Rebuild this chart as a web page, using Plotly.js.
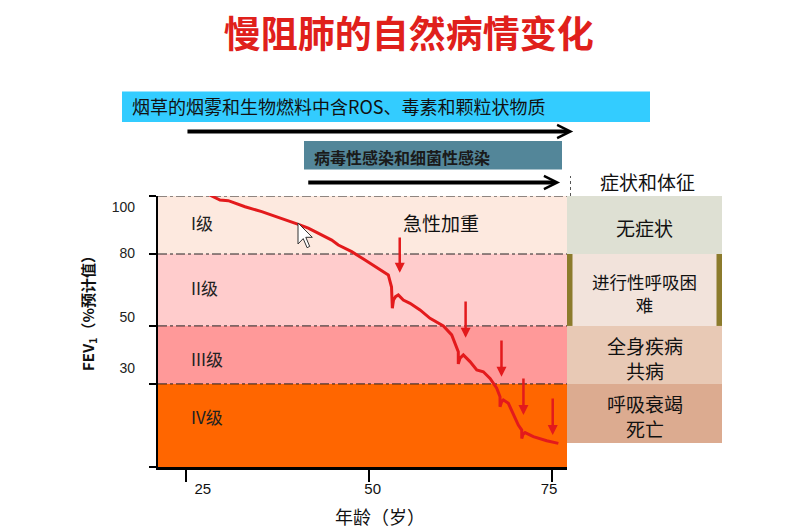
<!DOCTYPE html>
<html>
<head>
<meta charset="utf-8">
<script src="https://cdn.plot.ly/plotly-3.0.1.min.js"></script>
<style>
html, body { margin: 0; padding: 0; background: #ffffff; }
#chart { width: 789px; height: 530px; }
</style>
</head>
<body>
<div id="chart"></div>
<script>
// ================= DATA =================
const chartTitle = '慢阻肺的自然病情变化';
const xAxisTitle = '年龄（岁）';
const yAxisTitle = '<b>FEV<sub>1</sub>（%预计值）</b>';

const ageTickVals = [25, 50, 75];
const ageTickText = ['25', '50', '75'];

// stage boundaries on the (schematic) FEV1 scale of the drawing
const fevLevels = [100, 80, 55.2, 35.2];
const fevTickText = ['100', '80', '50', '30'];
const fevBottom = 6.55;

const stageNames = ['I级', 'II级', 'III级', 'IV级'];

const symptomTitle = '症状和体征';
const symptomNames = ['无症状', '进行性呼吸困<br>难', '全身疾病<br>共病', '呼吸衰竭<br>死亡'];
const symptomBottom = 14.8;

// FEV1 decline curve (age, FEV1 on the drawing's scale)
const ageCurve = [28.05, 29.65, 30.78, 33.07, 35.35, 37.16, 38.53, 40.35, 41.71, 43.54,
  44.91, 45.81, 47.64, 49.46, 50.82, 51.96, 52.64, 53.08, 53.19, 53.35,
  53.63, 54.01, 54.69, 55.61, 56.97, 58.34, 60.16, 61.30, 61.89, 62.20,
  62.20, 62.44, 62.89, 63.80, 64.72, 65.62, 66.54, 67.45, 67.90, 67.90,
  68.13, 68.35, 69.04, 69.72, 70.40, 70.87, 70.87, 71.04, 71.32, 72.45,
  74.28, 75.87];
const fevCurve = [100.6, 98.6, 98.4, 96.3, 94.6, 93.1, 91.7, 90.2, 88.9, 86.6,
  84.8, 83.1, 80.8, 77.9, 75.6, 73.7, 72.8, 68.6, 61.3, 64.1,
  65.3, 65.9, 64.1, 63.0, 60.7, 57.8, 55.2, 52.1, 48.6, 46.3,
  42.1, 44.1, 45.2, 42.9, 40.0, 39.4, 37.1, 33.7, 30.8, 27.3,
  29.1, 29.7, 28.5, 24.5, 21.0, 19.3, 16.4, 17.8, 18.4, 17.0,
  15.6, 14.7];

// acute exacerbations
const exacerbationLabel = '急性加重';
const exacerbationAge = [54.2, 63.2, 68.1, 71.1, 75.1];
const exacerbationFrom = [86.2, 64.1, 50.7, 37.6, 30.7];
const exacerbationTo = [73.5, 51.1, 37.7, 24.5, 17.6];

// risk factors (exposure periods)
const riskFactors = ['烟草的烟雾和生物燃料中含ROS、毒素和颗粒状物质', '病毒性感染和细菌性感染'];
const riskStartAge = [25, 41.5];
const riskEndAge = [77.9, 76.1];

// ================= STYLE / LAYOUT =================
const CJK = '"Noto Sans CJK SC", "Noto Sans", sans-serif';
const LAT = '"Liberation Sans", Arial, sans-serif';
const xRange = [21.18, 77.05];
const yRange = [fevBottom, 100];
const stageColors = ['#FDE9DF', '#FFCCCC', '#FF9999', '#FF6600'];
const symptomColors = ['#DEE0D3', '#F2E3DB', '#E8C9B5', '#DCAB90'];
const redColor = '#E31A1C';

const ageLabelPos = [27.3, 50.5, 74.6];
const fevLabelPos = [96.3, 80.4, 58.4, 40.8];
const stageLabelPos = [90.8, 68.6, 44.1, 23.8];
const symptomLabelPos = [89.0, 66.7, 44.3, 24.2];

// plot area in pixels: left 158, right 567, top 196, bottom 467
const M = { l: 158, r: 222, t: 196, b: 63 };
const PW = 789 - M.l - M.r, PH = 530 - M.t - M.b;
const px2pX = p => (p - M.l) / PW;
const px2pY = p => (530 - M.b - p) / PH;

const shapes = [];
const bandEdges = fevLevels.concat([fevBottom]);
stageNames.forEach((s, i) => {
  shapes.push({ type: 'rect', xref: 'paper', yref: 'y', x0: 0, x1: 1,
    y0: bandEdges[i + 1], y1: bandEdges[i], fillcolor: stageColors[i],
    line: { width: 0 }, layer: 'below' });
});
fevLevels.forEach(v => {
  shapes.push({ type: 'line', xref: 'paper', yref: 'y', x0: 0, x1: 1, y0: v, y1: v,
    line: { color: '#222222', width: 1, dash: 'dashdot' }, layer: 'below' });
});
// symptom boxes
const symEdges = fevLevels.concat([symptomBottom]);
const symX0 = px2pX(567), symX1 = px2pX(722);
symptomNames.forEach((s, i) => {
  shapes.push({ type: 'rect', xref: 'paper', yref: 'y', x0: symX0, x1: symX1,
    y0: symEdges[i + 1], y1: symEdges[i], fillcolor: symptomColors[i], line: { width: 0 } });
});
// olive side bars on the dyspnoea box
[[567, 572.5], [716.5, 722]].forEach(b => {
  shapes.push({ type: 'rect', xref: 'paper', yref: 'y', x0: px2pX(b[0]), x1: px2pX(b[1]),
    y0: symEdges[2], y1: symEdges[1], fillcolor: '#8C7B2C', line: { width: 0 } });
});
// risk factor banners
shapes.push({ type: 'rect', xref: 'paper', yref: 'paper', x0: px2pX(122), x1: px2pX(650),
  y0: px2pY(122), y1: px2pY(91.5), fillcolor: '#33CCFF', line: { width: 0 } });
shapes.push({ type: 'rect', xref: 'paper', yref: 'paper', x0: px2pX(304), x1: px2pX(562),
  y0: px2pY(169.5), y1: px2pY(141), fillcolor: '#538699', line: { width: 0 } });
// small dashed divider
shapes.push({ type: 'line', xref: 'paper', yref: 'paper', x0: px2pX(570.5), x1: px2pX(570.5),
  y0: px2pY(196), y1: px2pY(176), line: { color: '#555', width: 1, dash: 'dot' } });
// mouse cursor seen in the slide
const cur = [[0, 0], [0, 21], [5.2, 15.6], [9.1, 24.7], [11.7, 23.4], [7.8, 14.3], [14.3, 14.3]];
const cx = 298, cy = 223;
shapes.push({ type: 'path', xref: 'paper', yref: 'paper',
  path: 'M' + cur.map(p => px2pX(cx + p[0]).toFixed(4) + ',' + px2pY(cy + p[1]).toFixed(4)).join(' L') + ' Z',
  fillcolor: '#ffffff', line: { color: '#333', width: 1 } });

const annotations = [];
const txt = (o) => Object.assign({ showarrow: false, xanchor: 'center', yanchor: 'middle' }, o);
// risk factor texts
annotations.push(txt({ xref: 'paper', yref: 'paper', x: px2pX(130), y: px2pY(106.5),
  xanchor: 'left', text: riskFactors[0],
  font: { family: CJK, size: 18, color: '#111' } }));
annotations.push(txt({ xref: 'paper', yref: 'paper', x: px2pX(312), y: px2pY(156.5),
  xanchor: 'left', text: '<b>' + riskFactors[1] + '</b>',
  font: { family: CJK, size: 16, color: '#1a1a1a' } }));
// exposure arrows
const arrowY = [px2pY(131.5), px2pY(182.5)];
riskFactors.forEach((r, i) => {
  annotations.push({ xref: 'x', yref: 'paper', x: riskEndAge[i], y: arrowY[i],
    axref: 'x', ax: riskStartAge[i], ayref: 'pixel', ay: 0, text: '', showarrow: true,
    arrowhead: 5, arrowsize: 0.65, arrowwidth: 4, arrowcolor: '#000' });
});
// stage labels
stageNames.forEach((s, i) => {
  annotations.push(txt({ xref: 'x', yref: 'y', x: 25.45, y: stageLabelPos[i], xanchor: 'left',
    text: s, font: { family: CJK, size: 17, color: '#222' } }));
});
// exacerbations
annotations.push(txt({ xref: 'x', yref: 'y', x: 59.8, y: 90.8, text: exacerbationLabel,
  font: { family: CJK, size: 19, color: '#111' } }));
exacerbationAge.forEach((a, i) => {
  annotations.push({ xref: 'x', yref: 'y', x: a, y: exacerbationTo[i], axref: 'x', ax: a,
    ayref: 'y', ay: exacerbationFrom[i], text: '', showarrow: true, arrowhead: 2,
    arrowsize: 0.8, arrowwidth: 2.5, arrowcolor: redColor });
});
// symptoms
annotations.push(txt({ xref: 'paper', yref: 'paper', x: px2pX(647), y: px2pY(181), text: symptomTitle,
  font: { family: CJK, size: 19, color: '#111' } }));
symptomNames.forEach((s, i) => {
  annotations.push(txt({ xref: 'paper', yref: 'y', x: px2pX(644.5), y: symptomLabelPos[i], text: s,
    font: { family: CJK, size: i === 1 ? 17.5 : 19, color: '#111' } }));
});
// axis titles
annotations.push(txt({ xref: 'paper', yref: 'paper', x: px2pX(380), y: px2pY(516), text: xAxisTitle,
  font: { family: CJK, size: 18, color: '#111' } }));
annotations.push(txt({ xref: 'paper', yref: 'paper', x: px2pX(88), y: px2pY(310), text: yAxisTitle,
  textangle: -90, font: { family: CJK, size: 15, color: '#111' } }));

const traces = [
  { x: ageCurve, y: fevCurve, type: 'scatter', mode: 'lines', cliponaxis: false,
    line: { color: redColor, width: 3 }, hoverinfo: 'skip', showlegend: false },
  { x: [], y: [], type: 'scatter', mode: 'markers', xaxis: 'x2', yaxis: 'y2',
    showlegend: false, hoverinfo: 'skip' }
];

const layout = {
  width: 789, height: 530, margin: M,
  paper_bgcolor: '#ffffff', plot_bgcolor: '#ffffff', showlegend: false,
  title: { text: '<b>' + chartTitle + '</b>', x: 0.518, xanchor: 'center', y: 0.934, yanchor: 'middle',
    font: { family: CJK, size: 37, color: '#E0201B' } },
  xaxis: { range: xRange, showline: true, linecolor: '#000', linewidth: 2.5, ticks: 'outside',
    ticklen: 12, tickwidth: 2.5, tickcolor: '#000', tickvals: ageTickVals, showticklabels: false,
    showgrid: false, zeroline: false, fixedrange: true, automargin: false },
  xaxis2: { overlaying: 'x', anchor: 'y', side: 'bottom', range: xRange, tickvals: ageLabelPos,
    ticktext: ageTickText, ticks: '', showline: false, showgrid: false, zeroline: false,
    ticklabelstandoff: 11, tickfont: { family: LAT, size: 15, color: '#111' }, automargin: false, fixedrange: true },
  yaxis: { range: yRange, showline: true, linecolor: '#000', linewidth: 2.5, ticks: 'outside',
    ticklen: 7, tickwidth: 2, tickcolor: '#000', tickvals: fevLevels.concat([fevBottom]),
    showticklabels: false, showgrid: false, zeroline: false, fixedrange: true, automargin: false },
  yaxis2: { overlaying: 'y', anchor: 'x', side: 'left', range: yRange, tickvals: fevLabelPos,
    ticktext: fevTickText, ticks: '', showline: false, showgrid: false, zeroline: false,
    ticklabelstandoff: 22, tickfont: { family: LAT, size: 14, color: '#222' }, automargin: false, fixedrange: true },
  shapes: shapes,
  annotations: annotations
};

Plotly.newPlot('chart', traces, layout, { displayModeBar: false, staticPlot: true });
</script>
</body>
</html>
